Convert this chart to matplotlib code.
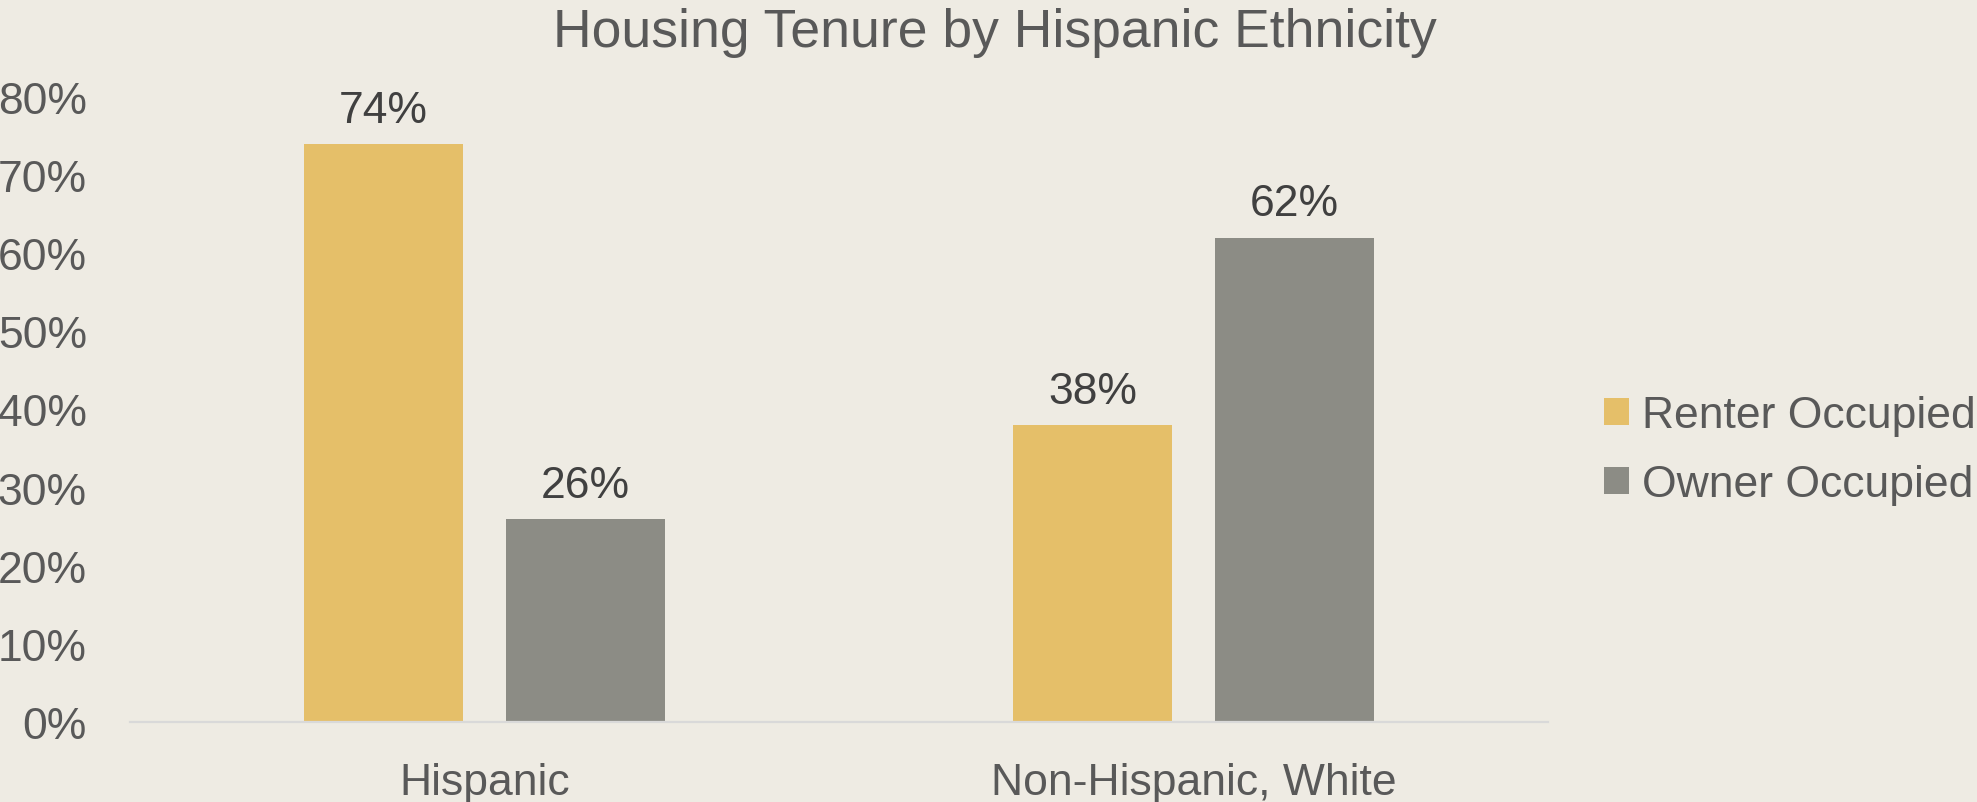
import matplotlib
matplotlib.use("Agg")
import matplotlib.pyplot as plt
import numpy as np

categories = ["Hispanic", "Non-Hispanic, White"]
series_names = ["Renter Occupied", "Owner Occupied"]
renter = [0.74, 0.38]
owner = [0.26, 0.62]
yticks = [0, 0.1, 0.2, 0.3, 0.4, 0.5, 0.6, 0.7, 0.8]
ytick_labels = ["0%", "10%", "20%", "30%", "40%", "50%", "60%", "70%", "80%"]

BG = "#EEEBE3"
YELLOW = "#E5BF69"
GREY = "#8C8C85"
TEXT = "#595959"
LABEL = "#404040"

plt.rcParams['font.family'] = ['Liberation Sans', 'DejaVu Sans']

W, H = 1977, 803
fig = plt.figure(figsize=(W / 100, H / 100), dpi=100, facecolor=BG)
ax = fig.add_axes([130 / W, 1 - 723 / H, (1548 - 130) / W, (723 - 98) / H])
ax.set_facecolor(BG)

x = np.arange(len(categories))
bw = 0.224
off = 0.1425
b1 = ax.bar(x - off, renter, bw, color=YELLOW, label=series_names[0])
b2 = ax.bar(x + off, owner, bw, color=GREY, label=series_names[1])

for bars, vals in ((b1, renter), (b2, owner)):
    for rect, v in zip(bars, vals):
        ax.annotate(f"{v*100:.0f}%", (rect.get_x() + rect.get_width() / 2, v),
                    xytext=(0, 16), textcoords="offset points",
                    ha="center", va="baseline", fontsize=32, color=LABEL)

ax.set_xlim(-0.5, 1.5)
ax.set_ylim(0, 0.8)
ax.set_yticks(yticks)
ax.set_yticklabels(ytick_labels)
ax.set_xticks(x)
ax.set_xticklabels(categories)
ax.tick_params(axis="y", length=0, pad=31, labelsize=32, labelcolor=TEXT)
ax.tick_params(axis="x", length=0, pad=29, labelsize=32, labelcolor=TEXT)
for s in ("top", "right", "left"):
    ax.spines[s].set_visible(False)
ax.spines["bottom"].set_color("#D9D9D9")
ax.spines["bottom"].set_linewidth(1.6)

fig.text(995 / W, 1 - 47 / H, "Housing Tenure by Hispanic Ethnicity",
         ha="center", va="baseline", fontsize=38.5, color=TEXT)

fig.legend(handles=[b1, b2], labels=series_names, loc="center left",
           bbox_to_anchor=(1604 / W, 1 - 451 / H), bbox_transform=fig.transFigure,
           frameon=False, fontsize=32, labelcolor=TEXT,
           handlelength=0.56, handleheight=0.56, handletextpad=0.3,
           labelspacing=0.62, borderpad=0, borderaxespad=0)

fig.savefig("out.png", dpi=100, facecolor=BG)
